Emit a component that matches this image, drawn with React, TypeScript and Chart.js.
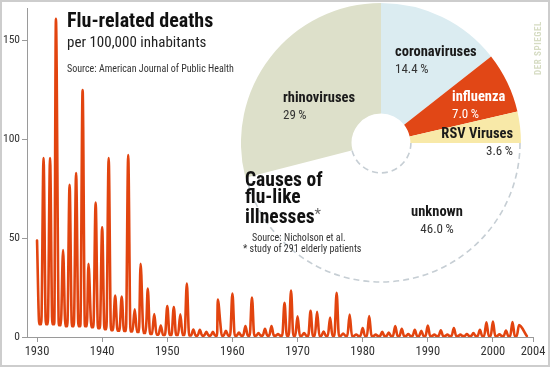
import React, { useEffect, useRef } from "react";
import { Chart, registerables } from "chart.js";
Chart.register(...registerables);

const FONT = '"Liberation Sans Narrow", "Roboto Condensed", "DejaVu Sans Condensed", Roboto, sans-serif';

// ---------- line chart data: flu-related deaths per 100,000 ----------
const firstSeason = 1930;
const peakValues = [
  48.8, 90.5, 90.5, 161, 44, 77, 83, 125, 37, 68,
  55.5, 90.5, 21, 20.5, 92, 14, 37, 24.5, 11.6, 5.8,
  15.6, 15.2, 11.5, 27, 3.8, 3.6, 2.6, 2.6, 19, 3.2,
  22, 2.2, 5.6, 20, 2, 4.1, 5.6, 1.5, 17.3, 23.5,
  10.5, 2, 13.2, 12.7, 2.8, 9.9, 22.3, 1.8, 11.4, 1.3,
  4.5, 10.6, 1.2, 2.6, 2.3, 5.5, 4.1, 1.5, 3.6, 3.1,
  5.8, 1.2, 3.4, 1.2, 4.5, 1.2, 1.5, 2, 3.6, 7.4,
  7.8, 1.4, 3.3, 7.6, 6,
];
// baseline level between two seasonal peaks
const troughValues = [
  6.5, 6.5, 6.5, 6, 5.5, 5.5, 5.5, 5.5, 5, 4.5,
  4, 3.5, 3.2, 3, 2.8, 2.5, 2, 1.5, 1.2, 1,
  1, 1, 1, 0.8, 0.7, 0.7, 0.7, 0.7, 0.7, 0.7,
  0.7, 0.7, 0.7, 0.7, 0.7, 0.7, 0.7, 0.7, 0.6, 0.6,
  0.6, 0.6, 0.6, 0.6, 0.6, 0.6, 0.6, 0.6, 0.5, 0.5,
  0.5, 0.5, 0.5, 0.5, 0.5, 0.5, 0.5, 0.5, 0.5, 0.5,
  0.5, 0.5, 0.5, 0.5, 0.5, 0.5, 0.5, 0.5, 0.5, 0.5,
  0.5, 0.5, 0.5, 0.5,
];
// the baseline is held from ~0.35 to ~0.65 of each season
const troughSpan = [0.35, 0.65];
const peakShift: Record<number, number> = { 1933: -0.1, 1938: -0.1, 1946: -0.1, 1958: -0.25 };
const extraPoints = [
  { x: 1946.8, y: 8 },
  { x: 1958.15, y: 6.8 },
];
const lastPoint = { x: 2005.2, y: 0.5 };
const xMin = 1928.46;
const xMax = 2006.15;
const xTickValues = [1930, 1940, 1950, 1960, 1970, 1980, 1990, 2000];
const xTickLabels = ["1930", "1940", "1950", "1960", "1970", "1980", "1990", "2000", "2004"];
const yMax = 166;
const yTickValues = [0, 50, 100, 150];

// ---------- pie data: causes of flu-like illnesses ----------
const pieLabels = ["coronaviruses", "influenza", "RSV Viruses", "unknown", "rhinoviruses"];
const pieValues = [14.4, 7.0, 3.6, 46.0, 29];
const pieValueLabels = ["14.4\u2009%", "7.0\u2009%", "3.6\u2009%", "46.0\u2009%", "29\u2009%"];
const pieColors = ["#dbecf1", "#e14716", "#f8e9a8", "rgba(255,255,255,0)", "#dde0ca"];
const dashedSlice = 3;

// label layout (positions only)
const pieLabelLayout = [
  { left: 395, top: 44, align: "left", color: "#1a1a1a", valueColor: "#333" },
  { left: 452, top: 89, align: "left", color: "#ffffff", valueColor: "#ffffff" },
  { left: 513, top: 126, align: "right", color: "#1a1a1a", valueColor: "#333" },
  { left: 437, top: 204, align: "center", color: "#1a1a1a", valueColor: "#333" },
  { left: 283, top: 90, align: "left", color: "#1a1a1a", valueColor: "#333" },
];

const LINE_COLOR = "#e2440f";
const AXIS_COLOR = "#9a9a9a";

export default function App() {
  const lineRef = useRef<HTMLCanvasElement>(null);
  const pieRef = useRef<HTMLCanvasElement>(null);

  useEffect(() => {
    const points: { x: number; y: number }[] = [];
    peakValues.forEach((v, i) => {
      const yr = firstSeason + i;
      points.push({ x: yr + (peakShift[yr] || 0), y: v });
      if (i < troughValues.length) {
        troughSpan.forEach((f) => points.push({ x: yr + f, y: troughValues[i] }));
      }
    });
    extraPoints.forEach((p) => points.push(p));
    points.push(lastPoint);
    points.sort((a, b) => a.x - b.x);

    const line = new Chart(lineRef.current!, {
      type: "line",
      data: {
        datasets: [
          {
            data: points,
            borderColor: LINE_COLOR,
            borderWidth: 2.6,
            pointRadius: 0,
            cubicInterpolationMode: "monotone",
            fill: false,
            borderJoinStyle: "round",
            borderCapStyle: "round",
          },
        ],
      },
      options: {
        animation: false,
        responsive: false,
        layout: { padding: { top: 3, right: 17, left: 0, bottom: 0 } },
        plugins: { legend: { display: false }, tooltip: { enabled: false } },
        scales: {
          x: {
            type: "linear",
            min: xMin,
            max: xMax,
            afterFit: (s: any) => {
              s.height = 30;
            },
            afterBuildTicks: (s: any) => {
              s.ticks = xTickValues.map((v) => ({ value: v })).concat([{ value: s.max }]);
            },
            grid: { drawOnChartArea: false, drawTicks: true, tickLength: 5, color: AXIS_COLOR },
            border: { display: true, color: AXIS_COLOR, width: 1 },
            ticks: {
              font: { family: FONT, size: 12.5 },
              color: "#333",
              padding: 2,
              maxRotation: 0,
              autoSkip: false,
              callback: (_v: any, i: number) => xTickLabels[i],
            },
          },
          y: {
            min: 0,
            max: yMax,
            afterFit: (s: any) => {
              s.width = 27;
            },
            afterBuildTicks: (s: any) => {
              s.ticks = yTickValues.map((v) => ({ value: v }));
            },
            grid: { drawOnChartArea: false, drawTicks: true, tickLength: 5, color: AXIS_COLOR },
            border: { display: true, color: AXIS_COLOR, width: 1 },
            ticks: { font: { family: FONT, size: 11.5 }, color: "#333", padding: 2 },
          },
        },
      },
    } as any);

    const dashPlugin = {
      id: "dashedSlice",
      afterDatasetsDraw(chart: any) {
        const arc = chart.getDatasetMeta(0).data[dashedSlice];
        if (!arc) return;
        const { x, y, startAngle, endAngle, innerRadius, outerRadius } = arc.getProps(
          ["x", "y", "startAngle", "endAngle", "innerRadius", "outerRadius"],
          true
        );
        const ctx = chart.ctx;
        ctx.save();
        ctx.setLineDash([6, 4]);
        ctx.strokeStyle = "#c6ced4";
        ctx.lineWidth = 1.6;
        ctx.beginPath();
        ctx.arc(x, y, outerRadius - 1, startAngle, endAngle);
        ctx.stroke();
        ctx.beginPath();
        ctx.arc(x, y, innerRadius + 0.5, startAngle, endAngle);
        ctx.stroke();
        ctx.restore();
      },
    };

    const pie = new Chart(pieRef.current!, {
      type: "doughnut",
      data: {
        labels: pieLabels,
        datasets: [{ data: pieValues, backgroundColor: pieColors, borderWidth: 0 }],
      },
      options: {
        animation: false,
        responsive: false,
        cutout: "21%",
        layout: { padding: 0 },
        plugins: { legend: { display: false }, tooltip: { enabled: false } },
      },
      plugins: [dashPlugin],
    } as any);

    return () => {
      line.destroy();
      pie.destroy();
    };
  }, []);

  const abs = (style: React.CSSProperties): React.CSSProperties => ({
    position: "absolute",
    whiteSpace: "nowrap",
    fontFamily: FONT,
    ...style,
  });

  return (
    <div
      style={{
        position: "absolute",
        left: 0,
        top: 0,
        width: 550,
        height: 367,
        background: "#fff",
        overflow: "hidden",
      }}
    >
      <canvas ref={lineRef} width={550} height={367} style={{ position: "absolute", left: 0, top: 0 }} />
      <canvas ref={pieRef} width={280} height={280} style={{ position: "absolute", left: 241, top: 3 }} />

      {/* titles */}
      <div style={abs({ left: 67, top: 10, fontSize: 20, fontWeight: 700, lineHeight: "20px", color: "#111" })}>
        Flu-related deaths
      </div>
      <div style={abs({ left: 67, top: 34.5, fontSize: 15, lineHeight: "15px", color: "#222" })}>
        per 100,000 inhabitants
      </div>
      <div style={abs({ left: 67, top: 64, fontSize: 10, lineHeight: "10px", color: "#333" })}>
        Source: American Journal of Public Health
      </div>

      <div
        style={abs({
          left: 245,
          top: 170.5,
          fontSize: 19.5,
          fontWeight: 700,
          lineHeight: "17.5px",
          color: "#111",
          whiteSpace: "normal",
          width: 110,
        })}
      >
        Causes of
        <br />
        flu-like
        <br />
        illnesses
        <span style={{ fontWeight: 400, color: "#666", fontSize: 15, verticalAlign: "4px" }}>*</span>
      </div>
      <div style={abs({ left: 252, top: 231.5, fontSize: 10, lineHeight: "11.5px", color: "#333" })}>
        Source: Nicholson et al.
      </div>
      <div style={abs({ left: 243, top: 243, fontSize: 10, lineHeight: "11.5px", color: "#333" })}>
        * study of 291 elderly patients
      </div>

      {/* pie labels */}
      {pieLabels.map((name, i) => {
        const L = pieLabelLayout[i];
        const transform =
          L.align === "right" ? "translateX(-100%)" : L.align === "center" ? "translateX(-50%)" : undefined;
        return (
          <div
            key={name}
            style={abs({
              left: L.left,
              top: L.top,
              transform,
              textAlign: L.align as any,
              lineHeight: "16.5px",
            })}
          >
            <div style={{ fontSize: 14.5, fontWeight: 700, color: L.color }}>{name}</div>
            <div style={{ fontSize: 13, color: L.valueColor }}>{pieValueLabels[i]}</div>
          </div>
        );
      })}

      {/* watermark */}
      <div
        style={abs({
          left: 538,
          top: 48,
          transform: "translate(-50%, -50%) rotate(-90deg)",
          fontSize: 9,
          fontWeight: 700,
          letterSpacing: "0.6px",
          color: "#d6dcc3",
        })}
      >
        DER SPIEGEL
      </div>

      {/* frame */}
      <div
        style={{
          position: "absolute",
          left: 0,
          top: 0,
          width: 550,
          height: 367,
          boxSizing: "border-box",
          border: "2px solid #cdcdcd",
          pointerEvents: "none",
        }}
      />
    </div>
  );
}
